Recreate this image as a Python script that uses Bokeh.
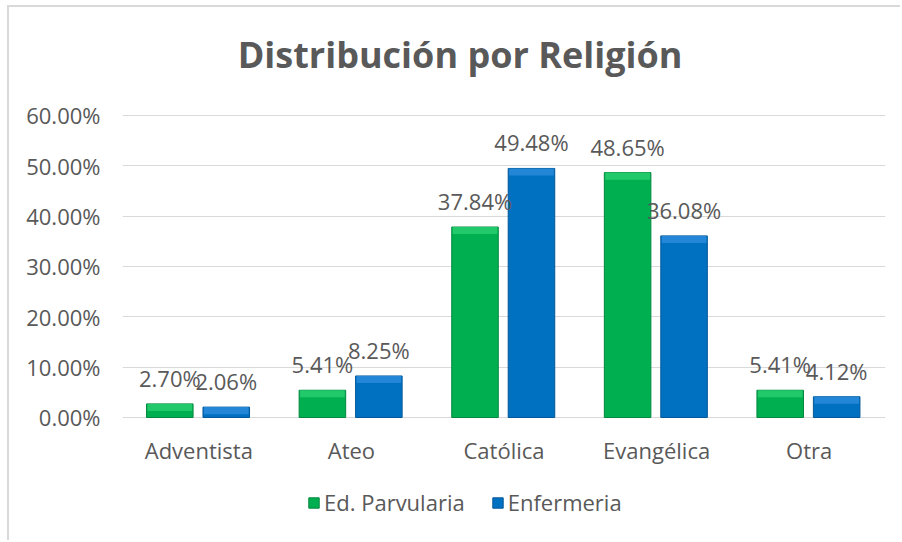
from bokeh.plotting import figure
from bokeh.layouts import row, column
from bokeh.models import (ColumnDataSource, FactorRange, Range1d, Legend, LegendItem,
                          Label, FixedTicker, CustomJSTickFormatter, Spacer)
from bokeh.transform import dodge
from bokeh.core.properties import value
from bokeh.embed import file_html
from bokeh.resources import INLINE

categories = ["Adventista", "Ateo", "Católica", "Evangélica", "Otra"]
parvularia = [2.70, 5.41, 37.84, 48.65, 5.41]
enfermeria = [2.06, 8.25, 49.48, 36.08, 4.12]
series_names = ["Ed. Parvularia", "Enfermeria"]
y_ticks = [0, 10, 20, 30, 40, 50, 60]
title_text = "Distribución por Religión"

FONT = "Open Sans"
TXT = "#595959"
GREEN = "#00B050"
BLUE = "#0070C0"
GREEN_HI = "#22C96A"
BLUE_HI = "#2386D6"
BEVEL = 1.4  # bevel strip height in value units (~7px)

src = ColumnDataSource(dict(
    cat=categories,
    p=parvularia,
    e=enfermeria,
    p_hl=[max(v - BEVEL, 0) for v in parvularia],
    e_hl=[max(v - BEVEL, 0) for v in enfermeria],
    pl=[f"{v:.2f}%" for v in parvularia],
    el=[f"{v:.2f}%" for v in enfermeria],
    zero=[0] * len(categories),
))

# frame spans nearly the whole canvas so title/legend are drawn inside it
p = figure(x_range=FactorRange(*categories, range_padding=0),
           y_range=Range1d(-24.44, 80.86),
           width=893, height=535, output_backend="svg", toolbar_location=None,
           x_axis_location=None,
           min_border_left=113, min_border_right=17, min_border_top=3,
           min_border_bottom=2,
           styles={"border-top": "2px solid #d9d9d9", "border-left": "2px solid #d9d9d9"})
p.outline_line_color = None
p.background_fill_color = "white"
p.border_fill_color = "white"

BW = 0.305
PX, EX = -0.19, 0.18
r1 = p.vbar(x=dodge("cat", PX, range=p.x_range), top="p", bottom=0, width=BW,
            source=src, fill_color=GREEN, line_color="#00873D", line_width=1)
r2 = p.vbar(x=dodge("cat", EX, range=p.x_range), top="e", bottom=0, width=BW,
            source=src, fill_color=BLUE, line_color="#00589A", line_width=1)
# bevel highlights on bar tops
p.vbar(x=dodge("cat", PX, range=p.x_range), top="p", bottom="p_hl", width=BW - 0.012,
       source=src, fill_color=GREEN_HI, line_color=None)
p.vbar(x=dodge("cat", EX, range=p.x_range), top="e", bottom="e_hl", width=BW - 0.012,
       source=src, fill_color=BLUE_HI, line_color=None)

# data labels
p.text(x=dodge("cat", PX, range=p.x_range), y="p", text="pl", source=src,
       text_align="center", text_baseline="middle", y_offset=-26,
       text_font=value(FONT), text_font_size="22px", text_color=TXT)
p.text(x=dodge("cat", EX, range=p.x_range), y="e", text="el", source=src,
       text_align="center", text_baseline="middle", y_offset=-26,
       text_font=value(FONT), text_font_size="22px", text_color=TXT)

# category labels (x axis)
p.text(x="cat", y="zero", text="cat", source=src,
       text_align="center", text_baseline="middle", y_offset=33,
       text_font=value(FONT), text_font_size="22px", text_color=TXT)

# y axis
p.yaxis.ticker = FixedTicker(ticks=y_ticks)
p.yaxis.formatter = CustomJSTickFormatter(code="return tick.toFixed(2) + '%';")
p.yaxis.axis_line_color = None
p.yaxis.major_tick_line_color = None
p.yaxis.minor_tick_line_color = None
p.yaxis.major_label_text_font = FONT
p.yaxis.major_label_text_font_size = "22px"
p.yaxis.major_label_text_color = TXT
p.yaxis.major_label_standoff = 16
p.xgrid.grid_line_color = None
p.ygrid.ticker = FixedTicker(ticks=y_ticks)
p.ygrid.grid_line_color = "#D9D9D9"
p.ygrid.grid_line_width = 1

# title
p.add_layout(Label(x=2.212, y=72.1, text=title_text,
                   text_align="center", text_baseline="alphabetic", text_font=FONT,
                   text_font_size="36px", text_font_style="bold", text_color=TXT))

legend = Legend(items=[LegendItem(label=series_names[0], renderers=[r1]),
                       LegendItem(label=series_names[1], renderers=[r2])],
                orientation="horizontal", location=(185, 23),
                label_text_font=FONT, label_text_font_size="22px",
                label_text_color=TXT, glyph_width=13, glyph_height=13,
                label_height=13,
                spacing=26, label_standoff=4, border_line_color=None,
                background_fill_alpha=0, padding=6)
p.add_layout(legend, "center")

layout = row(Spacer(width=7), column(Spacer(height=5), p))
open("out.html", "w").write(file_html(layout, INLINE))
